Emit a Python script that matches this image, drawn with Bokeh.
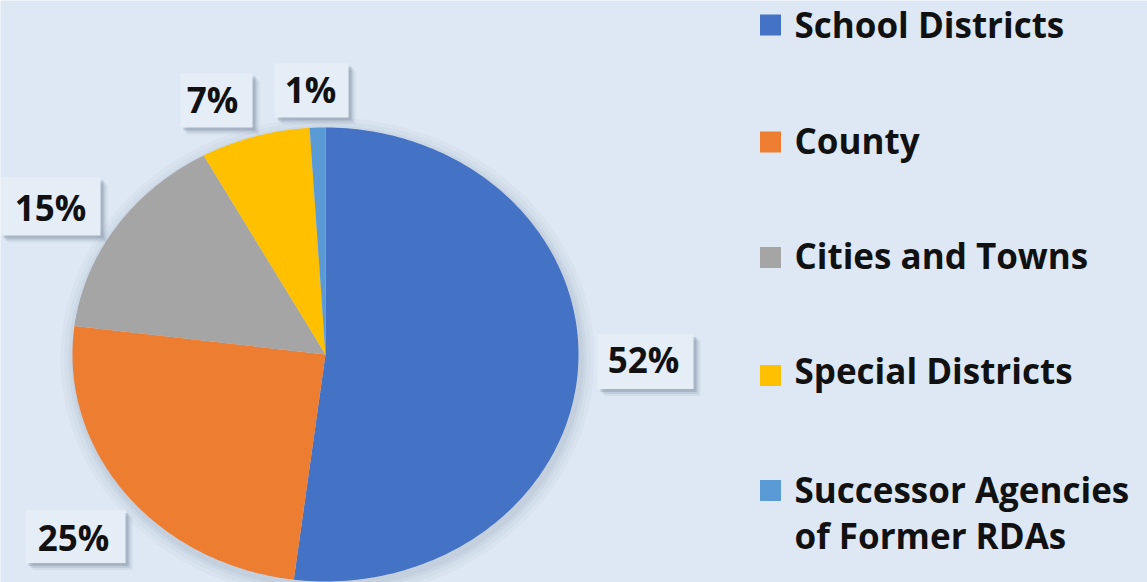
import math
from bokeh.plotting import figure
from bokeh.models import Range1d, ColumnDataSource
from bokeh.core.properties import value
from bokeh.embed import file_html
from bokeh.resources import INLINE

# ---- data ----
categories = ["School Districts", "County", "Cities and Towns",
              "Special Districts", "Successor Agencies\nof Former RDAs"]
shares = [52, 25, 15, 7, 1]
pct_labels = ["52%", "25%", "15%", "7%", "1%"]
colors = ["#4472C4", "#ED7D31", "#A5A5A5", "#FFC000", "#5B9BD5"]

# ---- layout ----
W, H = 1147, 582
BG = "#dde8f4"
FONT = "Open Sans"
FS = "35px"
cx, cy, rx, ry = 325, 354, 253, 227

p = figure(width=W, height=H, x_range=Range1d(0, W), y_range=Range1d(H, 0),
           output_backend="svg", toolbar_location=None, min_border=0)
p.axis.visible = False
p.grid.visible = False
p.outline_line_color = None
p.background_fill_color = BG
p.border_fill_color = BG

# soft shadow around pie
for k, a in [(14, 0.03), (10, 0.04), (6, 0.05), (3, 0.06)]:
    p.ellipse(x=[cx + 2], y=[cy + 4], width=[2 * (rx + k)], height=[2 * (ry + k)],
              fill_color="#50607a", fill_alpha=a, line_color=None)

# pie slices (clockwise from 12 o'clock), computed from shares
total = float(sum(shares))
xs, ys = [], []
start = 0.0
for s in shares:
    end = start + s / total * 2 * math.pi
    n = max(4, int(s * 3))
    px, py = [cx], [cy]
    for i in range(n + 1):
        t = start + (end - start) * i / n
        px.append(cx + rx * math.sin(t))
        py.append(cy - ry * math.cos(t))
    xs.append(px)
    ys.append(py)
    start = end
p.patches(xs=xs, ys=ys, fill_color=colors, line_color=None)

# data label boxes
box_x = [645, 75, 50, 216, 311]
box_y = [361, 536, 206, 100, 90]
box_w = [96, 100, 100, 72, 74]
box_h = [55, 53, 58, 54, 54]
for off, a in [(7, 0.08), (5, 0.15), (3, 0.25)]:
    p.rect(x=[v + off for v in box_x], y=[v + off for v in box_y], width=box_w, height=box_h,
           fill_color="#5d6b80", fill_alpha=a, line_color=None)
p.rect(x=box_x, y=box_y, width=box_w, height=box_h, fill_color="#e5edf7", line_color=None)

SHIFT = -13  # compensates the renderer's alphabetic baseline offset
lab_x = [643, 73, 50, 212, 310]
lab_y = [372 + SHIFT, 550 + SHIFT, 220 + SHIFT, 112 + SHIFT, 102 + SHIFT]
p.text(x=lab_x, y=lab_y, text=pct_labels, text_font=value(FONT), text_font_style="bold",
       text_font_size=FS, text_color="#111111", text_align="center",
       text_baseline="alphabetic")

# legend (manual)
sq_y = [24.5, 141.5, 257, 375, 490]
p.rect(x=[770] * len(categories), y=sq_y, width=21, height=21,
       fill_color=colors, line_color=None)
base_y = [37, 153, 268, 383, 502]
tx, ty, tt = [], [], []
for cat, b in zip(categories, base_y):
    for j, line in enumerate(cat.split("\n")):
        tx.append(794)
        ty.append(b + 46 * j + SHIFT)
        tt.append(line)
p.text(x=tx, y=ty, text=tt, text_font=value(FONT), text_font_style="bold",
       text_font_size=FS, text_color="#111111", text_align="left",
       text_baseline="alphabetic")

open("out.html", "w").write(file_html(p, INLINE))
